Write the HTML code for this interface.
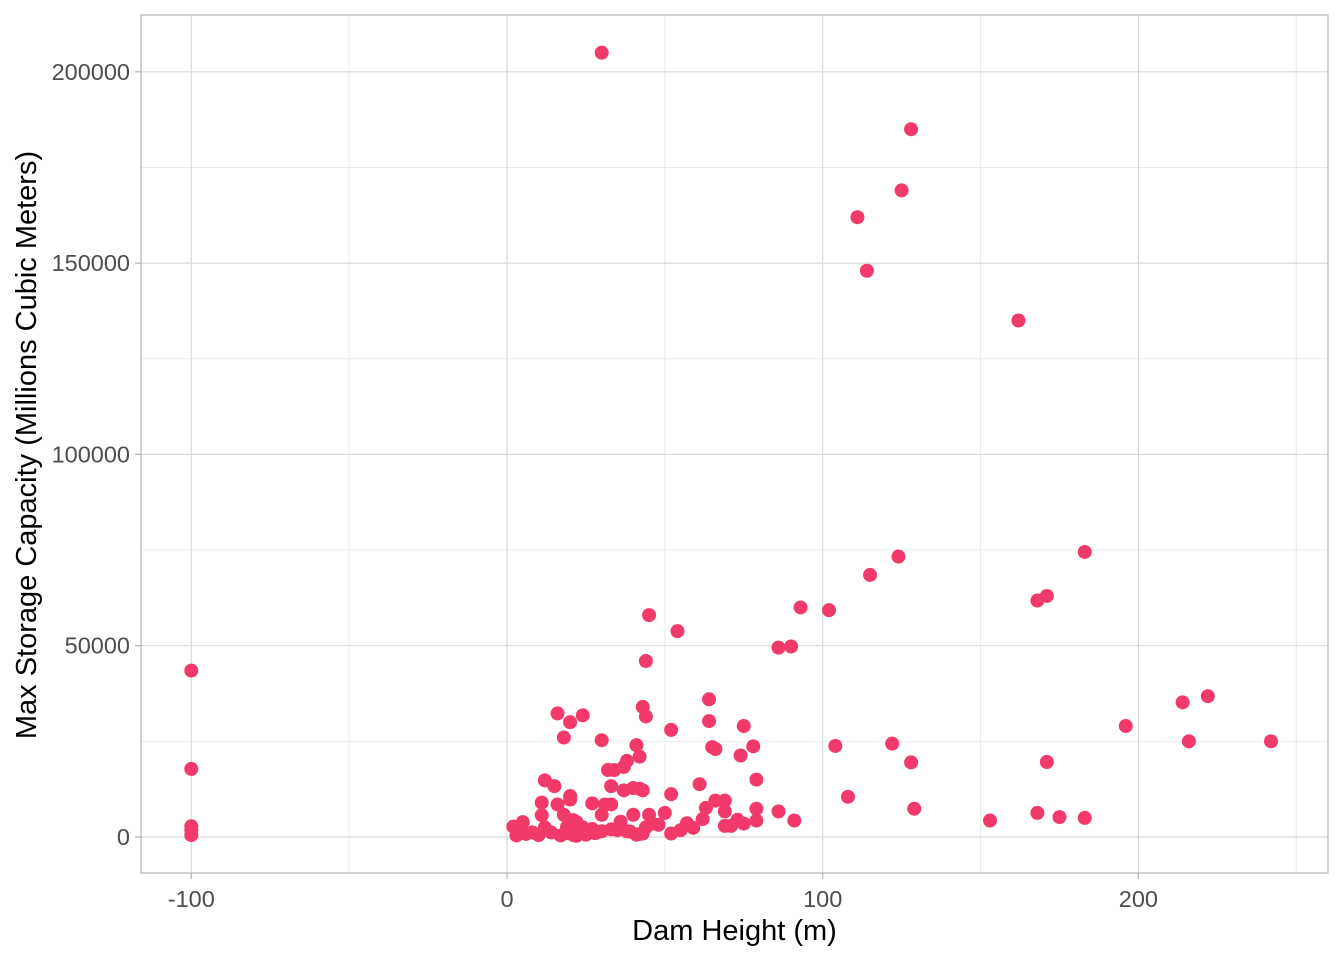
<!DOCTYPE html>
<html><head><meta charset="utf-8"><style>
html,body{margin:0;padding:0;background:#fff;}
svg{display:block;font-family:"Liberation Sans",Arial,sans-serif;}
</style></head><body>
<svg id="chart" width="1344" height="960" viewBox="0 0 1344 960"></svg>
<script>
const xTicks=[-100,0,100,200];
const xMinor=[-50,50,150,250];
const yTicks=[0,50000,100000,150000,200000];
const yMinor=[25000,75000,125000,175000];
const xs=[-100,-100,-100,-100,-100,30,128,125,111,114,162,183,124,115,171,168,93,102,45,54,90,86,44,64,222,214,43,16,24,44,20,64,196,75,52,30,18,216,242,122,41,104,78,65,66,74,42,38,171,128,37,32,34,12,79,15,61,33,37,40,42,43,52,20,108,20,66,69,11,16,27,31,33,63,79,129,86,69,50,168,18,11,30,40,45,175,183,153,91,79,73,62,57,36,5,21,22,46,2,48,75,69,71,59,12,24,27,35,38,4,8,14,19,25,3,10,17,22,42,52,41,55,30,44,6,19,20,28,39,43,21,33];
const ys=[43500,17800,2800,1800,500,205000,185000,169000,162000,148000,135000,74500,73300,68500,63000,61800,60000,59300,58000,53800,49800,49500,46000,36000,36800,35200,34000,32300,31800,31500,30000,30300,29000,29000,28000,25300,26000,25000,25000,24400,24000,23800,23700,23500,23000,21300,21000,19900,19600,19500,18300,17500,17500,14800,15000,13300,13800,13300,12200,12800,12600,12200,11200,10700,10500,9800,9500,9500,9000,8500,8800,8500,8500,7600,7400,7400,6700,6700,6300,6300,5800,5700,5800,5800,5800,5200,5000,4300,4300,4300,4500,4700,3600,4000,3900,4400,3900,3500,2700,3200,3500,2900,2900,2400,2500,2500,2100,1800,1500,1500,1200,1200,1000,600,400,500,400,300,800,900,600,1800,1500,2500,800,2600,1900,1000,1400,900,500,2000];
const svg=document.getElementById('chart');
const NS='http://www.w3.org/2000/svg';
const L=141,R=1328,T=15,B=873;
const sx=v=>507+v*3.157;
const sy=v=>837-v*0.003826;
function mk(tag,attrs,parent){const e=document.createElementNS(NS,tag);for(const k in attrs)e.setAttribute(k,attrs[k]);(parent||svg).appendChild(e);return e;}
const grid=mk('g',{});


xMinor.forEach(v=>mk('line',{x1:sx(v),x2:sx(v),y1:T,y2:B,stroke:'#ebebeb','stroke-width':1},grid));
yMinor.forEach(v=>mk('line',{x1:L,x2:R,y1:sy(v),y2:sy(v),stroke:'#ebebeb','stroke-width':1},grid));
xTicks.forEach(v=>mk('line',{x1:sx(v),x2:sx(v),y1:T,y2:B,stroke:'#d9d9d9','stroke-width':1.2},grid));
yTicks.forEach(v=>mk('line',{x1:L,x2:R,y1:sy(v),y2:sy(v),stroke:'#d9d9d9','stroke-width':1.2},grid));
const pts=mk('g',{});


xs.forEach((x,i)=>{const c=mk('circle',{cx:sx(x),cy:sy(ys[i]),r:7,fill:'#f23a6a'},pts);

});
const border=mk('rect',{x:L,y:T,width:R-L,height:B-T,fill:'none',stroke:'#b3b3b3','stroke-width':1.2});


xTicks.forEach(v=>{mk('line',{x1:sx(v),x2:sx(v),y1:B,y2:B+6,stroke:'#b3b3b3','stroke-width':1.2});
const t=mk('text',{x:sx(v),y:907,'text-anchor':'middle','font-size':23.5,fill:'#4d4d4d'});t.textContent=v;

});
yTicks.forEach(v=>{mk('line',{x1:L-6,x2:L,y1:sy(v),y2:sy(v),stroke:'#b3b3b3','stroke-width':1.2});
const t=mk('text',{x:L-11,y:sy(v)+8,'text-anchor':'end','font-size':23.5,fill:'#4d4d4d'});t.textContent=v;

});
const xt=mk('text',{x:(L+R)/2,y:940,'text-anchor':'middle','font-size':29,fill:'#000'});xt.textContent='Dam Height (m)';


const yt=mk('text',{x:0,y:0,'text-anchor':'middle','font-size':29,fill:'#000',transform:'translate(36,445) rotate(-90)'});yt.textContent='Max Storage Capacity (Millions Cubic Meters)';


</script>
</body></html>
